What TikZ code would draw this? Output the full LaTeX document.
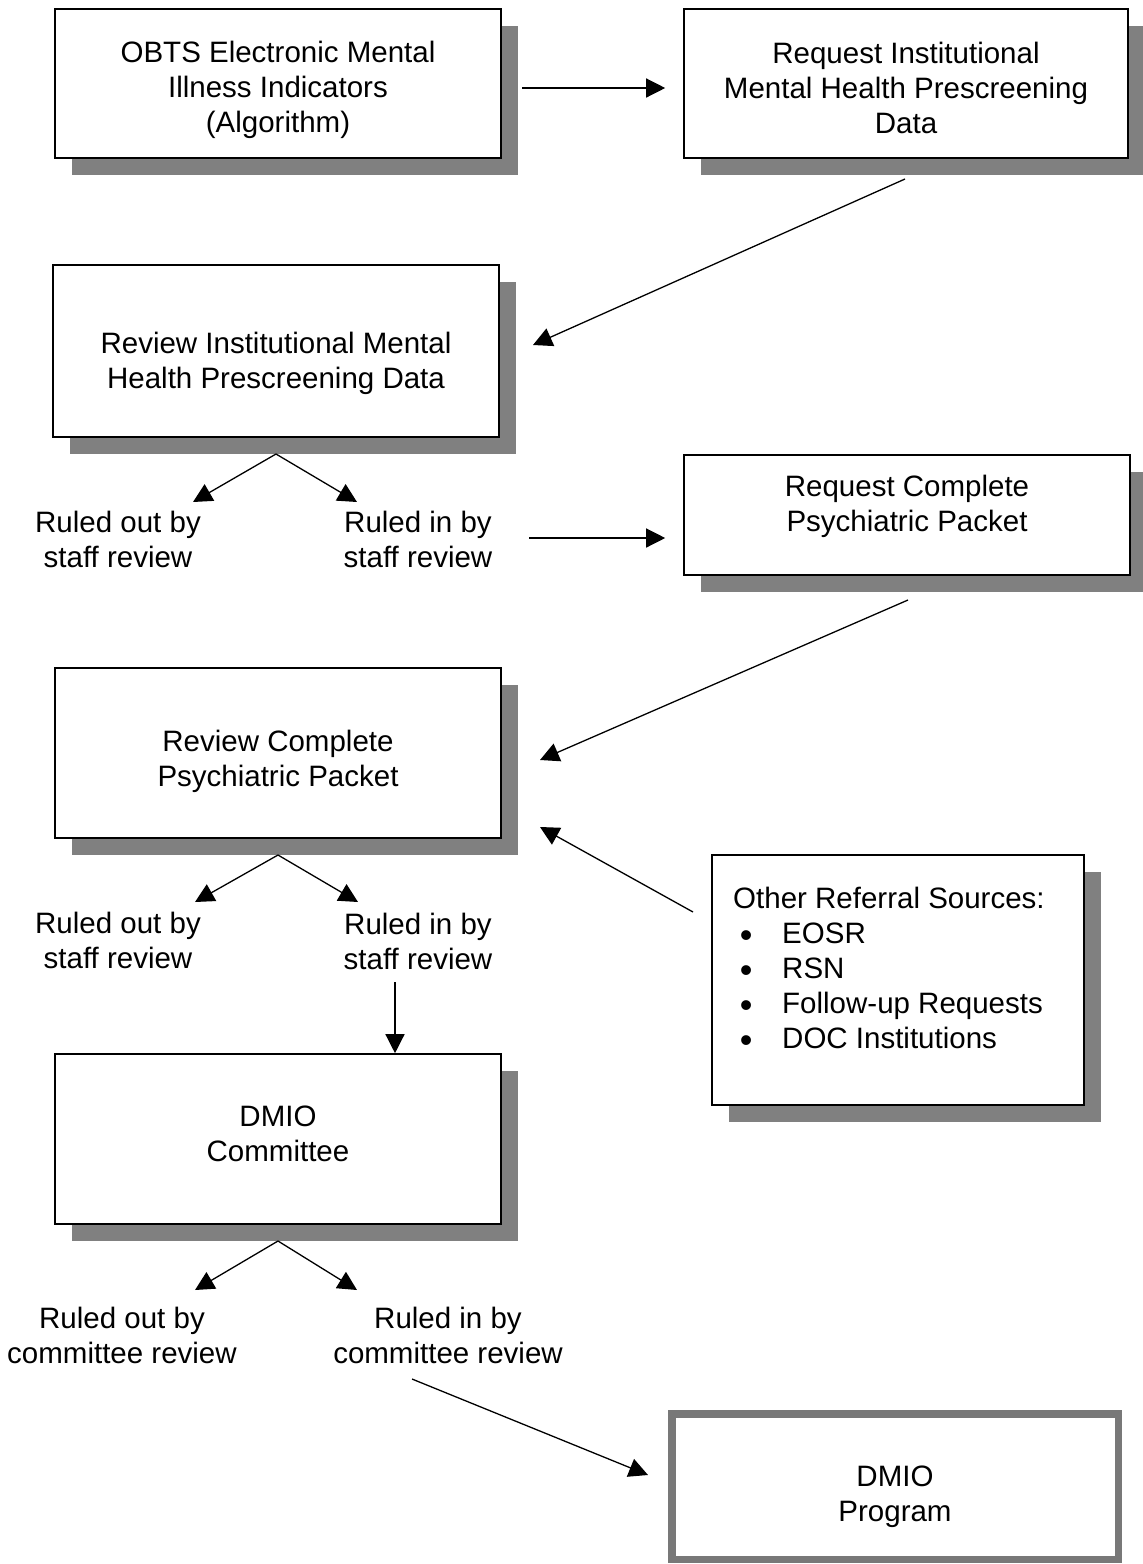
\documentclass[tikz,border=0pt]{standalone}
\usepackage{fontspec}
\setmainfont{Liberation Sans}
\usetikzlibrary{arrows.meta,shadows}
\definecolor{shgray}{RGB}{128,128,128}
\definecolor{framegray}{RGB}{120,120,120}
\newcommand{\blt}{\hspace*{6.7pt}{\fontsize{36}{35}\selectfont\raisebox{-4pt}{\textbullet}}\hspace*{29.7pt}}
\begin{document}
\begin{tikzpicture}[x=1pt,y=-1pt,
  txt/.style={font=\fontsize{29.5}{35}\selectfont, align=center, inner sep=0pt},
  box/.style={draw=black, line width=1.6pt, fill=white, inner sep=0pt,
     drop shadow={shadow xshift=17pt, shadow yshift=-17pt, fill=shgray, opacity=1, draw=none}},
  arr/.style={line width=1.3pt, -{Triangle[length=19pt,width=19pt]}},
  lbl/.style={txt}]
\useasboundingbox (0,0) rectangle (1143,1564);

% boxes
\node[box, minimum width=446pt, minimum height=149pt] (b1) at (278,83.5) {};
\node[txt] (b1t) at ([yshift=-6pt]b1.center)
  {OBTS Electronic Mental\\Illness Indicators\\(Algorithm)};
\node[box, minimum width=444pt, minimum height=149pt] (b2) at (906,83.5) {};
\node[txt] (b2t) at ([yshift=-4pt]b2.center)
  {Request Institutional\\Mental Health Prescreening\\Data};
\node[box, minimum width=446pt, minimum height=172pt] (b3) at (276,351) {};
\node[txt] (b3t) at ([yshift=-12pt]b3.center)
  {Review Institutional Mental\\Health Prescreening Data};
\node[box, minimum width=446pt, minimum height=120pt] (b4) at (907,515) {};
\node[txt] (b4t) at ([yshift=9pt]b4.center)
  {Request Complete\\Psychiatric Packet};
\node[box, minimum width=446pt, minimum height=170pt] (b5) at (278,753) {};
\node[txt] (b5t) at ([yshift=-8pt]b5.center)
  {Review Complete\\Psychiatric Packet};
\node[box, minimum width=446pt, minimum height=170pt] (b6) at (278,1139) {};
\node[txt] (b6t) at ([yshift=5pt]b6.center)
  {DMIO\\Committee};
\node[box, minimum width=372pt, minimum height=250pt] (b8) at (898,980) {};
\node[txt, align=left, anchor=north west] (b8t) at (733,886.5)
  {Other Referral Sources:\\
   \blt EOSR\\
   \blt RSN\\
   \blt Follow-up Requests\\
   \blt DOC Institutions};
\node[draw=framegray, line width=7pt, fill=white, minimum width=447pt,
      minimum height=146pt] (b7) at (895,1486.5) {};
\draw[framegray, line width=2pt] ([shift={(6.5,6.5)}]b7.north west)
  rectangle ([shift={(-6.5,-6.5)}]b7.south east);
\node[txt] (b7t) at ([yshift=-10.5pt]b7.center) {DMIO\\Program};

% labels
\node[lbl] (ro1) at (118,539) {Ruled out by\\staff review};
\node[lbl] (ri1) at (418,539) {Ruled in by\\staff review};
\node[lbl] (ro2) at (118,940) {Ruled out by\\staff review};
\node[lbl] (ri2) at (418,941) {Ruled in by\\staff review};
\node[lbl] (ro3) at (122,1335) {Ruled out by\\committee review};
\node[lbl] (ri3) at (448,1335) {Ruled in by\\committee review};

% coordinates
\coordinate (a1s) at (522,88);
\coordinate (a2s) at (905,179);
\coordinate (a2e) at (533,345);
\coordinate (ap1) at (276,454);
\coordinate (t1l) at (193,502);
\coordinate (t1r) at (357,502);
\coordinate (a3s) at (529,538);
\coordinate (a4s) at (908,600);
\coordinate (a4e) at (540,760);
\coordinate (ap2) at (278,855);
\coordinate (t2l) at (195,902);
\coordinate (t2r) at (358,902);
\coordinate (a5s) at (395,982);
\coordinate (ap3) at (278,1241);
\coordinate (t3l) at (195,1290);
\coordinate (t3r) at (357,1290);
\coordinate (a6s) at (412,1379);
\coordinate (a6e) at (648,1475);
\coordinate (a7s) at (693,912);
\coordinate (a7e) at (540,827);

% connectors
\draw[arr, shorten >=18pt] (a1s) -- (a1s -| b2.west);
\draw[arr] (a2s) -- (a2e);
\draw[arr] (ap1) -- (t1l);
\draw[arr] (ap1) -- (t1r);
\draw[arr, shorten >=18pt] (a3s) -- (a3s -| b4.west);
\draw[arr] (a4s) -- (a4e);
\draw[arr] (ap2) -- (t2l);
\draw[arr] (ap2) -- (t2r);
\draw[arr] (a5s) -- (a5s |- b6.north);
\draw[arr] (ap3) -- (t3l);
\draw[arr] (ap3) -- (t3r);
\draw[arr] (a6s) -- (a6e);
\draw[arr] (a7s) -- (a7e);
\end{tikzpicture}
\end{document}
